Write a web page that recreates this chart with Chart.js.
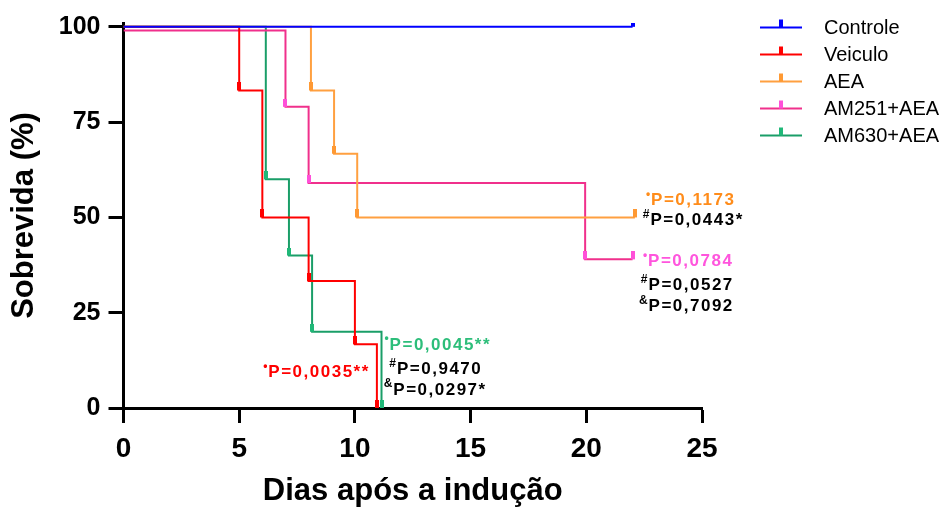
<!DOCTYPE html>
<html>
<head>
<meta charset="utf-8">
<title>Sobrevida</title>
<script src="https://cdn.jsdelivr.net/npm/chart.js@4.4.0/dist/chart.umd.min.js"></script>
<style>
    html, body { margin: 0; padding: 0; background: #ffffff; }
    #chart-box { width: 944px; height: 507px; }
</style>
</head>
<body>
<div id="chart-box"><canvas id="survival_chart" width="944" height="507"></canvas></div>
<script>
// Kaplan-Meier curves (days after induction vs survival %)
const seriesNames = ['Controle', 'Veiculo', 'AEA', 'AM251+AEA', 'AM630+AEA'];

const controleDays = [0, 22];
const controleSurv = [100, 100];

const veiculoDays = [0, 5, 6, 8, 10, 10.95];
const veiculoSurv = [100, 83.3, 50, 33.3, 16.7, 0];

const aeaDays = [0, 8.1, 9.1, 10.1, 22.1];
const aeaSurv = [100, 83.3, 66.7, 50, 50];

const am251Days = [0, 7, 8, 19.95, 22];
const am251Surv = [99, 79, 59, 39, 39];

const am630Days = [0, 6.15, 7.15, 8.15, 11.15];
const am630Surv = [100, 60, 40, 20, 0];

const xTicks = [0, 5, 10, 15, 20, 25];
const yTicks = [0, 25, 50, 75, 100];

const lineColors = ['#0000ff', '#ff0000', '#ffa040', '#f0308c', '#1a9e68'];
const markColors = ['#0000ff', '#ff0000', '#ff9933', '#ff50d8', '#20b878'];

const FONT = '"Liberation Sans", Arial, sans-serif';

window.onload = initialize;

function initialize() {
    let allDays = [controleDays, veiculoDays, aeaDays, am251Days, am630Days];
    let allSurv = [controleSurv, veiculoSurv, aeaSurv, am251Surv, am630Surv];

    let datasets = [];
    for (let k = 0; k < seriesNames.length; k++) {
        let points = [];
        for (let i = 0; i < allDays[k].length; i++) {
            points.push({x: allDays[k][i], y: allSurv[k][i]});
        }
        let tick = makeTick(markColors[k]);
        datasets.push({
            label: seriesNames[k],
            data: points,
            borderColor: lineColors[k],
            borderWidth: 2,
            stepped: true,
            fill: false,
            pointRadius: 3,
            pointStyle: (ctx) => ctx.dataIndex === 0 ? false : tick
        });
    }

    const config = {
        type: 'line',
        data: {datasets: datasets},
        options: {
            responsive: false,
            animation: false,
            events: [],
            layout: {padding: {top: 23, right: 242, left: 0, bottom: 0}},
            plugins: {
                legend: {display: false},
                tooltip: {enabled: false}
            },
            scales: {
                x: {
                    type: 'linear',
                    min: 0,
                    max: 25,
                    border: {display: true, color: '#000000', width: 3},
                    grid: {display: true, drawOnChartArea: false, drawTicks: true,
                           tickLength: 15, tickWidth: 3, tickColor: '#000000'},
                    ticks: {color: '#000000', padding: 9, maxRotation: 0,
                            font: {family: FONT, size: 28, weight: 'bold'}},
                    afterBuildTicks: (axis) => { axis.ticks = xTicks.map(v => ({value: v})); },
                    afterFit: (scale) => { scale.height = 99; },
                    title: {
                        display: true,
                        text: 'Dias após a indução',
                        color: '#000000',
                        padding: {top: 0, bottom: 0},
                        font: {family: FONT, size: 31, weight: 'bold', lineHeight: 1}
                    }
                },
                y: {
                    min: 0,
                    max: 101,
                    border: {display: true, color: '#000000', width: 3},
                    grid: {display: true, drawOnChartArea: false, drawTicks: true,
                           tickLength: 15, tickWidth: 3, tickColor: '#000000'},
                    ticks: {color: '#000000', padding: 8,
                            font: {family: FONT, size: 25, weight: 'bold'}},
                    afterBuildTicks: (axis) => { axis.ticks = yTicks.map(v => ({value: v})); },
                    afterFit: (scale) => { scale.width = 123.5; },
                    title: {
                        display: true,
                        text: 'Sobrevida (%)',
                        color: '#000000',
                        padding: {top: 9, bottom: 0},
                        font: {family: FONT, size: 31, weight: 'bold', lineHeight: 1}
                    }
                }
            }
        },
        plugins: [legendPlugin, notesPlugin]
    };

    new Chart(document.getElementById('survival_chart'), config);
}

// little vertical tick sitting on top of the line, like the censor marks
function makeTick(color) {
    let c = document.createElement('canvas');
    c.width = 4;
    c.height = 16;
    let g = c.getContext('2d');
    g.fillStyle = color;
    g.fillRect(0, 0, 4, 8);
    return c;
}

// legend on the right, drawn by hand so it looks like the prism one
const legendPlugin = {
    id: 'sideLegend',
    afterDraw(chart) {
        let ctx = chart.ctx;
        ctx.save();
        ctx.font = '20px ' + FONT;
        ctx.textBaseline = 'middle';
        for (let k = 0; k < seriesNames.length; k++) {
            let y = 27.5 + k * 27;
            ctx.strokeStyle = lineColors[k];
            ctx.lineWidth = 2;
            ctx.beginPath();
            ctx.moveTo(760, y);
            ctx.lineTo(802, y);
            ctx.stroke();
            ctx.fillStyle = markColors[k];
            ctx.fillRect(779, y - 8, 4, 8);
            ctx.fillStyle = '#000000';
            ctx.fillText(seriesNames[k], 824, y + 1);
        }
        ctx.restore();
    }
};

// p-value notes, anchored in data units next to each curve
const notes = [
    {x: 22.8,  y: 54.4, mark: '•', text: 'P=0,1173',   color: '#ff8c1a'},
    {x: 22.77, y: 49.2, mark: '#', text: 'P=0,0443*',  color: '#000000'},
    {x: 22.67, y: 38.4, mark: '•', text: 'P=0,0784',   color: '#ff55dd'},
    {x: 22.69, y: 32.2, mark: '#', text: 'P=0,0527',   color: '#000000'},
    {x: 22.69, y: 26.6, mark: '&', text: 'P=0,7092',   color: '#000000'},
    {x: 11.5,  y: 16.5, mark: '•', text: 'P=0,0045**', color: '#2dbe7a'},
    {x: 11.82, y: 10.1, mark: '#', text: 'P=0,9470',   color: '#000000'},
    {x: 11.66, y: 4.7,  mark: '&', text: 'P=0,0297*',  color: '#000000'},
    {x: 6.26,  y: 9.3,  mark: '•', text: 'P=0,0035**', color: '#ff0000'}
];

const notesPlugin = {
    id: 'pNotes',
    afterDraw(chart) {
        let ctx = chart.ctx;
        let xs = chart.scales.x;
        let ys = chart.scales.y;
        ctx.save();
        ctx.textBaseline = 'middle';
        for (let k = 0; k < notes.length; k++) {
            let n = notes[k];
            let px = xs.getPixelForValue(n.x);
            let py = ys.getPixelForValue(n.y);
            ctx.fillStyle = n.color;
            ctx.letterSpacing = '0px';
            ctx.textAlign = 'right';
            ctx.font = 'bold 12px ' + FONT;
            ctx.fillText(n.mark, px - 1, py - 6);
            ctx.textAlign = 'left';
            ctx.font = 'bold 17px ' + FONT;
            ctx.letterSpacing = '1.5px';
            ctx.fillText(n.text, px, py);
        }
        ctx.restore();
    }
};
</script>
</body>
</html>
